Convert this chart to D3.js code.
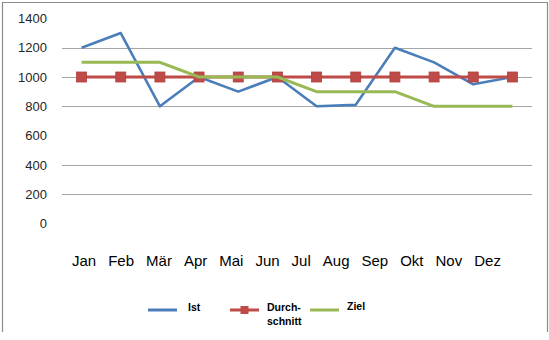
<!DOCTYPE html>
<html><head><meta charset="utf-8">
<script src="https://cdn.jsdelivr.net/npm/d3@7"></script>
<style>html,body{margin:0;padding:0;background:#fff;}svg{display:block;}</style>
</head><body>
<script>
const months = ["Jan","Feb","Mär","Apr","Mai","Jun","Jul","Aug","Sep","Okt","Nov","Dez"];
const ist = [1200,1300,800,1000,900,1000,800,810,1200,1100,950,1000];
const durchschnitt = [1000,1000,1000,1000,1000,1000,1000,1000,1000,1000,1000,1000];
const ziel = [1100,1100,1100,1000,1000,1000,900,900,900,800,800,800];
const yTicks = [0,200,400,600,800,1000,1200,1400];
const gridValues = [200,400,800,1000,1200];
const seriesNames = ["Ist","Durchschnitt","Ziel"];
const colors = {Ist:"#4a7ebb", Durchschnitt:"#be4b48", Ziel:"#98b954"};

const W=549,H=340;
const svg=d3.select("body").append("svg").attr("width",W).attr("height",H);

// border
svg.append("path").attr("d","M2.5,332 V2.5 H547.5 V332").attr("fill","none").attr("stroke","#8c8c8c").attr("stroke-width",1.2);

const x=d3.scaleBand().domain(months).range([62,532]);
const y=d3.scaleLinear().domain([0,1400]).range([223.5,18.4]);

// grid
svg.append("g").selectAll("line").data(gridValues).join("line")
  .attr("x1",62).attr("x2",532)
  .attr("y1",d=>Math.round(y(d))+0.5).attr("y2",d=>Math.round(y(d))+0.5)
  .attr("stroke","#a6a6a6").attr("stroke-width",1.2);

// y labels
svg.append("g").selectAll("text").data(yTicks).join("text")
  .attr("x",47).attr("y",d=>y(d)).attr("dy","0.36em")
  .attr("text-anchor","end").attr("font-family","Liberation Sans, Arial, sans-serif")
  .attr("font-size",13).attr("fill","#262626").text(d=>d);

// x labels: flowed left to right with a fixed gap
const xl=svg.append("g").selectAll("text").data(months).join("text")
  .attr("y",266).attr("font-family","Liberation Sans, Arial, sans-serif")
  .attr("font-size",15).attr("fill","#000").text(d=>d);
let cursor=72;
xl.each(function(){
  const w=this.getComputedTextLength();
  d3.select(this).attr("x",cursor);
  cursor+=w+12;
});

const cx=d=>x(d)+x.bandwidth()/2;
const line=vals=>d3.line().x((v,i)=>cx(months[i])).y(v=>y(v))(vals);

svg.append("path").attr("d",line(ist)).attr("fill","none").attr("stroke",colors.Ist).attr("stroke-width",2.6).attr("stroke-linejoin","round");
svg.append("path").attr("d",line(durchschnitt)).attr("fill","none").attr("stroke",colors.Durchschnitt).attr("stroke-width",3).attr("stroke-linejoin","round");
svg.append("g").selectAll("rect").data(durchschnitt).join("rect")
  .attr("x",(v,i)=>cx(months[i])-5).attr("y",v=>y(v)-5).attr("width",10).attr("height",10)
  .attr("fill",colors.Durchschnitt).attr("stroke","#b0403d").attr("stroke-width",0.8);
svg.append("path").attr("d",line(ziel)).attr("fill","none").attr("stroke",colors.Ziel).attr("stroke-width",3).attr("stroke-linejoin","round");

// legend
const lg=svg.append("g").attr("font-family","Liberation Sans, Arial, sans-serif").attr("font-weight","bold").attr("font-size",10.5).attr("fill","#000");
const legendItems=[
  {name:"Ist", x0:148, tx:188, lines:["Ist"]},
  {name:"Durchschnitt", x0:230, tx:267, lines:["Durch-","schnitt"]},
  {name:"Ziel", x0:310, tx:347, lines:["Ziel"]}
];
legendItems.forEach(it=>{
  lg.append("line").attr("x1",it.x0).attr("x2",it.x0+29).attr("y1",310).attr("y2",310)
    .attr("stroke",colors[it.name]).attr("stroke-width",3);
  if(it.name==="Durchschnitt"){
    lg.append("rect").attr("x",it.x0+14.5-4).attr("y",306).attr("width",8).attr("height",8).attr("fill",colors[it.name]);
  }
  it.lines.forEach((t,i)=>{
    lg.append("text").attr("x",it.tx).attr("y",(it.name==="Ziel"?306:307)+i*14.5).attr("dy","0.35em").text(t);
  });
});
</script>
</body></html>
